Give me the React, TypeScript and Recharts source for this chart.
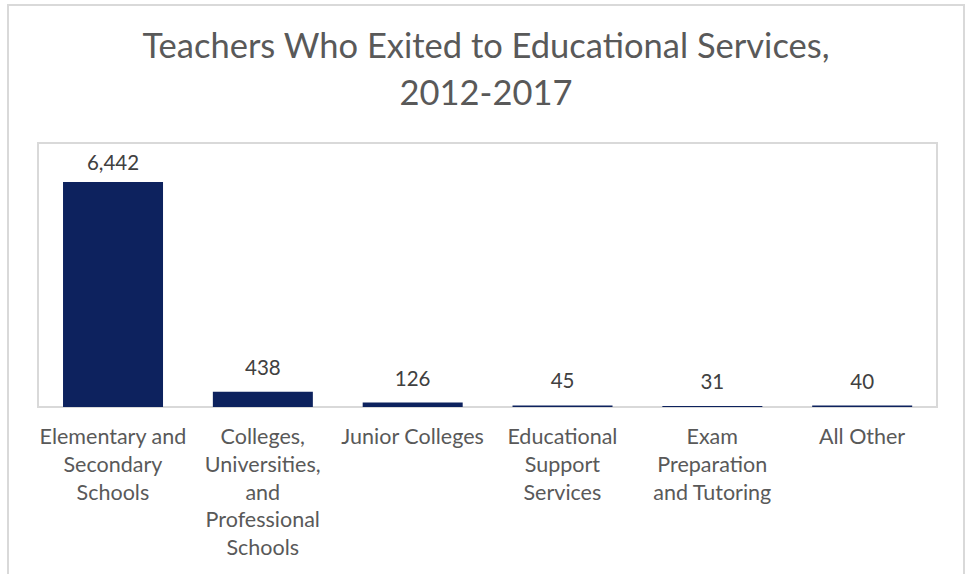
import { BarChart, Bar, XAxis, YAxis, LabelList } from 'recharts';

const categories = [
    'Elementary and\nSecondary\nSchools',
    'Colleges,\nUniversities,\nand\nProfessional\nSchools',
    'Junior Colleges',
    'Educational\nSupport\nServices',
    'Exam\nPreparation\nand Tutoring',
    'All Other',
];
const teachers = [6442, 438, 126, 45, 31, 40];

const data = categories.map((name, i) => ({ name, value: teachers[i] }));

const FONT = 'Lato, "Open Sans", sans-serif';
const PLOT_TOP = 143;

function WrappedTick(props: any) {
    const { x, y, payload } = props;
    const lines = String(payload.value).split('\n');
    return (
        <text x={x} y={y + 9} textAnchor="middle" fill="#595959" fontSize={21.5} fontFamily={FONT}>
            {lines.map((l, i) => (
                <tspan key={i} x={x} dy={i === 0 ? 20 : 27.8}>{l}</tspan>
            ))}
        </text>
    );
}

// value label above the bar, pushed down when it would leave the plot area
function ValueLabel(props: any) {
    const { x, y, width, value } = props;
    const baseline = Math.max(y - 17, PLOT_TOP + 27);
    return (
        <text x={x + width / 2} y={baseline} textAnchor="middle" fill="#404040" fontSize={20.5} fontFamily={FONT}>
            {Number(value).toLocaleString('en-US')}
        </text>
    );
}

export default function App() {
    return (
        <div style={{ position: 'absolute', left: 0, top: 0, width: 972, height: 574, overflow: 'hidden', background: '#fff' }}>
            {/* outer chart frame, runs off the bottom */}
            <div style={{ position: 'absolute', left: 7, top: 4, width: 958, height: 640, border: '2px solid #d9d9d9', boxSizing: 'border-box' }} />
            {/* plot area frame */}
            <div style={{ position: 'absolute', left: 37, top: 142, width: 901, height: 266, border: '2px solid #d9d9d9', boxSizing: 'border-box' }} />
            <div style={{ position: 'absolute', left: 0, top: 21, width: 972, textAlign: 'center', fontFamily: FONT, fontSize: 34.5, lineHeight: '47px', color: '#595959' }}>
                Teachers Who Exited to Educational Services,<br />2012-2017
            </div>
            <div style={{ position: 'absolute', left: 0, top: 0 }}>
                <BarChart width={972} height={574} data={data} margin={{ top: PLOT_TOP, right: 35, bottom: 0, left: 38 }} barCategoryGap="16.7%">
                    <XAxis dataKey="name" axisLine={false} tickLine={false} interval={0} height={167} tick={<WrappedTick />} />
                    <YAxis hide domain={[0, 7560]} />
                    <Bar dataKey="value" fill="#0D225E" isAnimationActive={false}>
                        <LabelList dataKey="value" content={<ValueLabel />} />
                    </Bar>
                </BarChart>
            </div>
        </div>
    );
}
